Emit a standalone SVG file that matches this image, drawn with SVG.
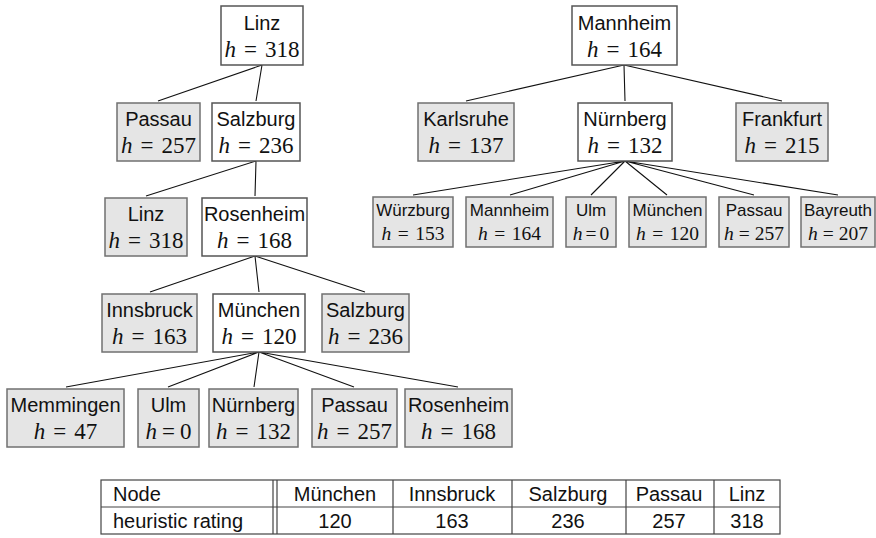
<svg xmlns="http://www.w3.org/2000/svg" width="876" height="538" viewBox="0 0 876 538">
<style>
.w{fill:#fff;stroke:#555;stroke-width:1.5}
.g{fill:#e5e5e5;stroke:#707070;stroke-width:1.5}
.n{font-family:"Liberation Sans",Arial,sans-serif;font-size:20px;fill:#111;text-anchor:middle}
.m{font-family:"Liberation Serif","Times New Roman",serif;font-size:23px;fill:#111;text-anchor:middle}
.ns{font-family:"Liberation Sans",Arial,sans-serif;font-size:17px;fill:#111;text-anchor:middle}
.ms{font-family:"Liberation Serif","Times New Roman",serif;font-size:19.5px;fill:#111;text-anchor:middle}
.i{font-style:italic}
.e{stroke:#111;stroke-width:1.1;fill:none}
.t{stroke:#444;stroke-width:1.2;fill:none}
.tt{font-family:"Liberation Sans",Arial,sans-serif;font-size:20px;fill:#111}
.tc{text-anchor:middle}
</style>
<rect width="876" height="538" fill="#fff"/>
<g id="edges">
<path class="e" d="M262 65L158 101M262 65L256 101"/>
<path class="e" d="M256 161L146 196M256 161L255 196"/>
<path class="e" d="M255 256L150 292M255 256L259 292M255 256L365 292"/>
<path class="e" d="M259 352L66 387M259 352L168 387M259 352L254 387M259 352L354 387M259 352L458 387"/>
<path class="e" d="M624 65L466 101M624 65L625 101M624 65L782 101"/>
<path class="e" d="M625 161L413 195M625 161L510 195M625 161L591 195M625 161L667 195M625 161L754 195M625 161L838 195"/>
</g>
<g id="n-linz-root"><rect class="w" x="221" y="6" width="82" height="59"/><text class="n" x="262" y="30">Linz</text><text class="m" x="262" y="57"><tspan class="i">h</tspan><tspan dx="8">=</tspan><tspan dx="8">318</tspan></text></g>
<g id="n-passau-1"><rect class="g" x="117" y="103" width="83" height="58"/><text class="n" x="158.5" y="126">Passau</text><text class="m" x="158.5" y="153"><tspan class="i">h</tspan><tspan dx="8">=</tspan><tspan dx="8">257</tspan></text></g>
<g id="n-salzburg-1"><rect class="w" x="212" y="103" width="88" height="58"/><text class="n" x="256" y="126">Salzburg</text><text class="m" x="256" y="153"><tspan class="i">h</tspan><tspan dx="8">=</tspan><tspan dx="8">236</tspan></text></g>
<g id="n-linz-2"><rect class="g" x="105" y="198" width="82" height="58"/><text class="n" x="146" y="221">Linz</text><text class="m" x="146" y="248"><tspan class="i">h</tspan><tspan dx="8">=</tspan><tspan dx="8">318</tspan></text></g>
<g id="n-rosenheim-2"><rect class="w" x="202" y="198" width="105" height="58"/><text class="n" x="254.5" y="221">Rosenheim</text><text class="m" x="254.5" y="248"><tspan class="i">h</tspan><tspan dx="8">=</tspan><tspan dx="8">168</tspan></text></g>
<g id="n-innsbruck-3"><rect class="g" x="102" y="294" width="95" height="58"/><text class="n" x="149.5" y="317">Innsbruck</text><text class="m" x="149.5" y="344"><tspan class="i">h</tspan><tspan dx="8">=</tspan><tspan dx="8">163</tspan></text></g>
<g id="n-muenchen-3"><rect class="w" x="213" y="294" width="92" height="58"/><text class="n" x="259" y="317">München</text><text class="m" x="259" y="344"><tspan class="i">h</tspan><tspan dx="8">=</tspan><tspan dx="8">120</tspan></text></g>
<g id="n-salzburg-3"><rect class="g" x="322" y="294" width="87" height="58"/><text class="n" x="365.5" y="317">Salzburg</text><text class="m" x="365.5" y="344"><tspan class="i">h</tspan><tspan dx="8">=</tspan><tspan dx="8">236</tspan></text></g>
<g id="n-memmingen-4"><rect class="g" x="7" y="389" width="117" height="58"/><text class="n" x="65.5" y="412">Memmingen</text><text class="m" x="65.5" y="439"><tspan class="i">h</tspan><tspan dx="8">=</tspan><tspan dx="8">47</tspan></text></g>
<g id="n-ulm-4"><rect class="g" x="138" y="389" width="61" height="58"/><text class="n" x="168.5" y="412">Ulm</text><text class="m" x="168.5" y="439"><tspan class="i">h</tspan><tspan dx="5">=</tspan><tspan dx="5">0</tspan></text></g>
<g id="n-nuernberg-4"><rect class="g" x="209" y="389" width="89" height="58"/><text class="n" x="253.5" y="412">Nürnberg</text><text class="m" x="253.5" y="439"><tspan class="i">h</tspan><tspan dx="8">=</tspan><tspan dx="8">132</tspan></text></g>
<g id="n-passau-4"><rect class="g" x="312" y="389" width="85" height="58"/><text class="n" x="354.5" y="412">Passau</text><text class="m" x="354.5" y="439"><tspan class="i">h</tspan><tspan dx="8">=</tspan><tspan dx="8">257</tspan></text></g>
<g id="n-rosenheim-4"><rect class="g" x="405" y="389" width="107" height="58"/><text class="n" x="458.5" y="412">Rosenheim</text><text class="m" x="458.5" y="439"><tspan class="i">h</tspan><tspan dx="8">=</tspan><tspan dx="8">168</tspan></text></g>
<g id="n-mannheim-root"><rect class="w" x="572" y="6" width="105" height="59"/><text class="n" x="624.5" y="30">Mannheim</text><text class="m" x="624.5" y="57"><tspan class="i">h</tspan><tspan dx="8">=</tspan><tspan dx="8">164</tspan></text></g>
<g id="n-karlsruhe"><rect class="g" x="418" y="103" width="96" height="58"/><text class="n" x="466" y="126">Karlsruhe</text><text class="m" x="466" y="153"><tspan class="i">h</tspan><tspan dx="8">=</tspan><tspan dx="8">137</tspan></text></g>
<g id="n-nuernberg-r"><rect class="w" x="578" y="103" width="94" height="58"/><text class="n" x="625" y="126">Nürnberg</text><text class="m" x="625" y="153"><tspan class="i">h</tspan><tspan dx="8">=</tspan><tspan dx="8">132</tspan></text></g>
<g id="n-frankfurt"><rect class="g" x="736" y="103" width="92" height="58"/><text class="n" x="782" y="126">Frankfurt</text><text class="m" x="782" y="153"><tspan class="i">h</tspan><tspan dx="8">=</tspan><tspan dx="8">215</tspan></text></g>
<g id="n-wuerzburg"><rect class="g" x="373" y="197" width="80" height="50"/><text class="ns" x="413" y="216">Würzburg</text><text class="ms" x="413" y="240"><tspan class="i">h</tspan><tspan dx="6.5">=</tspan><tspan dx="6.5">153</tspan></text></g>
<g id="n-mannheim-r"><rect class="g" x="466" y="197" width="87" height="50"/><text class="ns" x="509.5" y="216">Mannheim</text><text class="ms" x="509.5" y="240"><tspan class="i">h</tspan><tspan dx="6.5">=</tspan><tspan dx="6.5">164</tspan></text></g>
<g id="n-ulm-r"><rect class="g" x="566" y="197" width="50" height="50"/><text class="ns" x="591" y="216">Ulm</text><text class="ms" x="591" y="240"><tspan class="i">h</tspan><tspan dx="3">=</tspan><tspan dx="3">0</tspan></text></g>
<g id="n-muenchen-r"><rect class="g" x="629" y="197" width="77" height="50"/><text class="ns" x="667.5" y="216">München</text><text class="ms" x="667.5" y="240"><tspan class="i">h</tspan><tspan dx="6.5">=</tspan><tspan dx="6.5">120</tspan></text></g>
<g id="n-passau-r"><rect class="g" x="719" y="197" width="70" height="50"/><text class="ns" x="754" y="216">Passau</text><text class="ms" x="754" y="240"><tspan class="i">h</tspan><tspan dx="5">=</tspan><tspan dx="5">257</tspan></text></g>
<g id="n-bayreuth"><rect class="g" x="801" y="197" width="74" height="50"/><text class="ns" x="838" y="216">Bayreuth</text><text class="ms" x="838" y="240"><tspan class="i">h</tspan><tspan dx="5">=</tspan><tspan dx="5">207</tspan></text></g>
<g id="table">
<rect class="t" x="101" y="480" width="679" height="54"/>
<path class="t" d="M101 507H780M273 480V534M277 480V534M393 480V534M512 480V534M626 480V534M714 480V534"/>
<text class="tt" x="113" y="501">Node</text>
<text class="tt" x="113" y="528">heuristic rating</text>
<text class="tt tc" x="335" y="501">München</text>
<text class="tt tc" x="335" y="528">120</text>
<text class="tt tc" x="452" y="501">Innsbruck</text>
<text class="tt tc" x="452" y="528">163</text>
<text class="tt tc" x="568" y="501">Salzburg</text>
<text class="tt tc" x="568" y="528">236</text>
<text class="tt tc" x="669" y="501">Passau</text>
<text class="tt tc" x="669" y="528">257</text>
<text class="tt tc" x="747" y="501">Linz</text>
<text class="tt tc" x="747" y="528">318</text>
</g>
</svg>
